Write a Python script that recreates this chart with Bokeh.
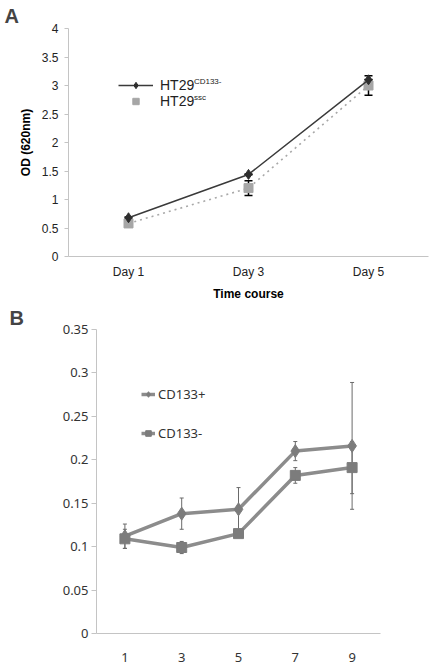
from bokeh.plotting import figure
from bokeh.models import (ColumnDataSource, Whisker, TeeHead, FixedTicker,
                          Legend, LegendItem, Label, Range1d)
from bokeh.embed import file_html
from bokeh.resources import INLINE

# ---------------- Panel A data ----------------
days = ["Day 1", "Day 3", "Day 5"]
cd133neg_od = [0.68, 1.44, 3.10]
cd133neg_err = [0.03, 0.13, 0.25]
ssc_od = [0.58, 1.20, 3.00]
ssc_err = [0.03, 0.13, 0.17]
a_yticks = [0.0, 0.5, 1.0, 1.5, 2.0, 2.5, 3.0, 3.5, 4.0]
a_ylabels = ["0", "0.5", "1", "1.5", "2", "2.5", "3", "3.5", "4"]

# ---------------- Panel B data ----------------
b_days = ["1", "3", "5", "7", "9"]
cd133pos = [0.112, 0.138, 0.143, 0.210, 0.216]
cd133pos_err = [0.014, 0.018, 0.025, 0.011, 0.073]
cd133neg = [0.109, 0.099, 0.115, 0.182, 0.191]
cd133neg_err = [0.011, 0.007, 0.004, 0.009, 0.030]
b_yticks = [0.0, 0.05, 0.1, 0.15, 0.2, 0.25, 0.3, 0.35]
b_ylabels = ["0", "0.05", "0.1", "0.15", "0.2", "0.25", "0.3", "0.35"]

AX = "#c4c4c4"

# ================= Panel A =================
xa = [i + 0.5 for i in range(len(days))]
pA = figure(width=433, height=303, x_range=Range1d(0, len(days)), y_range=Range1d(0, 4),
            output_backend="svg", toolbar_location=None, title="A",
            min_border_left=68, min_border_right=5, min_border_top=28, min_border_bottom=46)
pA.grid.visible = False
pA.outline_line_color = None
pA.title.text_font = "Liberation Sans"
pA.title.text_font_size = "20px"
pA.title.text_font_style = "bold"
pA.title.align = "left"
pA.title.offset = -64
pA.title.standoff = 4

srcA1 = ColumnDataSource(dict(x=xa, y=cd133neg_od,
                              up=[v + e for v, e in zip(cd133neg_od, cd133neg_err)],
                              lo=[v - e for v, e in zip(cd133neg_od, cd133neg_err)]))
srcA2 = ColumnDataSource(dict(x=xa, y=ssc_od,
                              up=[v + e for v, e in zip(ssc_od, ssc_err)],
                              lo=[v - e for v, e in zip(ssc_od, ssc_err)]))

l2 = pA.line("x", "y", source=srcA2, line_color="#a8a8a8", line_width=1.6, line_dash="2 4")
s2 = pA.scatter("x", "y", source=srcA2, marker="square", size=9, color="#a6a6a6")
l1 = pA.line("x", "y", source=srcA1, line_color="#3a3a3a", line_width=1.5)
s1 = pA.scatter("x", "y", source=srcA1, marker="diamond", size=10, color="#2e2e2e")

for src in (srcA2, srcA1):
    pA.add_layout(Whisker(base="x", upper="up", lower="lo", source=src,
                          line_color="black", line_width=1.5,
                          upper_head=TeeHead(size=8, line_color="black", line_width=1.5),
                          lower_head=TeeHead(size=8, line_color="black", line_width=1.5)))

pA.yaxis.ticker = FixedTicker(ticks=a_yticks)
pA.yaxis.major_label_overrides = dict(zip(a_yticks, a_ylabels))
pA.yaxis.major_tick_out = 4
pA.yaxis.major_tick_in = 0
pA.yaxis.major_label_standoff = 6
pA.yaxis.axis_label = "OD (620nm)"
pA.yaxis.axis_label_standoff = 6

pA.xaxis.ticker = FixedTicker(ticks=xa, minor_ticks=list(range(len(days) + 1)))
pA.xaxis.major_label_overrides = dict(zip(xa, days))
pA.xaxis.major_tick_out = 0
pA.xaxis.major_tick_in = 0
pA.xaxis.minor_tick_out = 4
pA.xaxis.minor_tick_in = 0
pA.xaxis.major_label_standoff = 4
pA.xaxis.axis_label = "Time course"
pA.xaxis.axis_label_standoff = 5

for ax in (pA.xaxis, pA.yaxis):
    ax.axis_line_color = AX
    ax.major_tick_line_color = AX
    ax.minor_tick_line_color = AX if ax is pA.xaxis else None
    ax.major_label_text_font = "Liberation Sans"
    ax.major_label_text_font_size = "12px"
    ax.major_label_text_color = "#222222"
    ax.axis_label_text_font = "Liberation Sans"
    ax.axis_label_text_font_size = "12px"
    ax.axis_label_text_font_style = "bold"
    ax.axis_label_text_color = "black"

legA = Legend(items=[LegendItem(label="HT29", renderers=[l1, s1]),
                     LegendItem(label="HT29", renderers=[s2])],
              location=(50, 147), orientation="vertical",
              glyph_width=35, glyph_height=16, label_height=16, spacing=0,
              padding=0, margin=0, label_standoff=7,
              border_line_color=None, background_fill_alpha=0,
              label_text_font="Liberation Sans", label_text_font_size="14px",
              label_text_color="#222222")
pA.add_layout(legA)
pA.add_layout(Label(x=1.045, y=3.07, text="CD133-", text_font="Liberation Sans",
                    text_font_size="8px", text_baseline="middle", text_color="#222222"))
pA.add_layout(Label(x=1.045, y=2.79, text="ssc", text_font="Liberation Sans",
                    text_font_size="8px", text_baseline="middle", text_color="#222222"))

# ================= Panel B =================
xb = [i + 0.5 for i in range(len(b_days))]
pB = figure(width=433, height=362, x_range=Range1d(0, len(b_days)), y_range=Range1d(0, 0.35),
            output_backend="svg", toolbar_location=None, title="B",
            min_border_left=96, min_border_right=53, min_border_top=22, min_border_bottom=32)
pB.grid.visible = False
pB.outline_line_color = None
pB.title.text_font = "Liberation Sans"
pB.title.text_font_size = "20px"
pB.title.text_font_style = "bold"
pB.title.align = "left"
pB.title.offset = -87
pB.title.standoff = 2

srcB1 = ColumnDataSource(dict(x=xb, y=cd133pos,
                              up=[v + e for v, e in zip(cd133pos, cd133pos_err)],
                              lo=[v - e for v, e in zip(cd133pos, cd133pos_err)]))
srcB2 = ColumnDataSource(dict(x=xb, y=cd133neg,
                              up=[v + e for v, e in zip(cd133neg, cd133neg_err)],
                              lo=[v - e for v, e in zip(cd133neg, cd133neg_err)]))

LC = "#8c8c8c"
MC = "#7c7c7c"
bl1 = pB.line("x", "y", source=srcB1, line_color=LC, line_width=3.5)
bl2 = pB.line("x", "y", source=srcB2, line_color=LC, line_width=3.5)
bs1 = pB.scatter("x", "y", source=srcB1, marker="diamond", size=13, color=MC)
bs2 = pB.scatter("x", "y", source=srcB2, marker="square", size=10, color=MC)

for src in (srcB1, srcB2):
    pB.add_layout(Whisker(base="x", upper="up", lower="lo", source=src,
                          line_color="#6a6a6a", line_width=1,
                          upper_head=TeeHead(size=4, line_color="#6a6a6a", line_width=1),
                          lower_head=TeeHead(size=4, line_color="#6a6a6a", line_width=1)))

pB.yaxis.ticker = FixedTicker(ticks=b_yticks)
pB.yaxis.major_label_overrides = dict(zip(b_yticks, b_ylabels))
pB.yaxis.major_tick_out = 5
pB.yaxis.major_tick_in = 0
pB.yaxis.major_label_standoff = 3

pB.xaxis.ticker = FixedTicker(ticks=xb, minor_ticks=list(range(len(b_days) + 1)))
pB.xaxis.major_label_overrides = dict(zip(xb, b_days))
pB.xaxis.major_tick_out = 0
pB.xaxis.major_tick_in = 0
pB.xaxis.minor_tick_out = 5
pB.xaxis.minor_tick_in = 0
pB.xaxis.major_label_standoff = 14

for ax in (pB.xaxis, pB.yaxis):
    ax.axis_line_color = AX
    ax.major_tick_line_color = AX
    ax.minor_tick_line_color = AX if ax is pB.xaxis else None
    ax.major_label_text_font = "Noto Sans"
    ax.major_label_text_font_size = "13px"
    ax.major_label_text_color = "#333333"

legB = Legend(items=[LegendItem(label="CD133+", renderers=[bl1, bs1]),
                     LegendItem(label="CD133-", renderers=[bl2, bs2])],
              location=(45, 191), orientation="vertical",
              glyph_width=14, glyph_height=16, label_height=16, spacing=21,
              padding=0, margin=0, label_standoff=3,
              border_line_color=None, background_fill_alpha=0,
              label_text_font="Noto Sans", label_text_font_size="13px",
              label_text_color="#333333")
pB.add_layout(legB)

open("out.html", "w").write(file_html([pA, pB], INLINE))
